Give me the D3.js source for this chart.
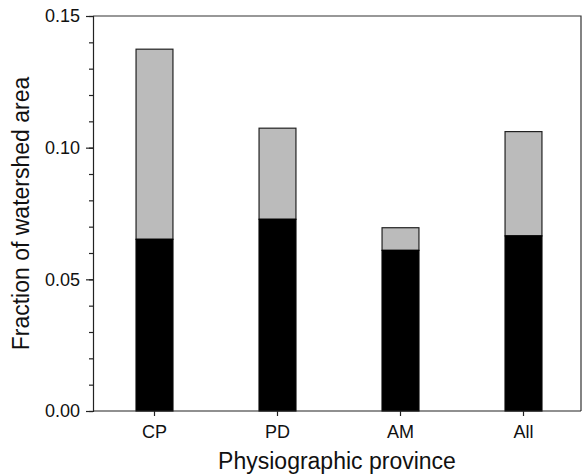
<!DOCTYPE html>
<html>
<head>
<meta charset="utf-8" />
<title></title>
<style>
html, body {
    padding: 0px;
    margin: 0px;
    background: #fff;
}
svg text {
    font-family: "Liberation Sans", Arial, Helvetica, sans-serif;
    fill: #111;
}
</style>
</head>
<body>
<svg id="chart" width="582" height="476"></svg>

<script src="https://cdnjs.cloudflare.com/ajax/libs/d3/7.8.5/d3.min.js"></script>
<script>
// values
var provinces = ["CP", "PD", "AM", "All"];
var lowerPart = [0.0652, 0.0728, 0.0610, 0.0665];   // black segment
var upperPart = [0.0722, 0.0346, 0.0086, 0.0396];   // grey segment on top
var yTicks = [0, 0.05, 0.10, 0.15];

!(function(){
    "use strict";

    var svg = d3.select("#chart");
    var left = 93, top = 16, bottom = 411, right = 581;

    var x = d3.scaleBand()
        .domain(provinces)
        .range([left, left + 4 * 123])
        .paddingInner(0.7)
        .paddingOuter(0.35);

    var y = d3.scaleLinear()
        .domain([0, 0.15])
        .range([bottom, top]);

    var rows = provinces.map(function(p, i) {
        return {name: p, low: lowerPart[i], high: upperPart[i]};
    });

    // frame (top + right)
    svg.append("path")
        .attr("d", "M" + left + "," + top + "H" + right + "V" + bottom)
        .attr("fill", "none")
        .attr("stroke", "#333")
        .attr("stroke-width", 1.2);

    // bars
    var g = svg.append("g");
    g.selectAll(".upper")
        .data(rows)
        .enter()
        .append("rect")
        .attr("class", "upper")
        .attr("x", function(d) { return x(d.name); })
        .attr("width", x.bandwidth())
        .attr("y", function(d) { return y(d.low + d.high); })
        .attr("height", function(d) { return y(d.low) - y(d.low + d.high); })
        .attr("fill", "#bbbbbb")
        .attr("stroke", "#222")
        .attr("stroke-width", 1.2);

    g.selectAll(".lower")
        .data(rows)
        .enter()
        .append("rect")
        .attr("class", "lower")
        .attr("x", function(d) { return x(d.name); })
        .attr("width", x.bandwidth())
        .attr("y", function(d) { return y(d.low); })
        .attr("height", function(d) { return y(0) - y(d.low); })
        .attr("fill", "#000")
        .attr("stroke", "#000")
        .attr("stroke-width", 1.2);

    // y axis, minor ticks every 0.01
    var yMinor = svg.append("g")
        .attr("transform", "translate(" + left + ",0)")
        .call(d3.axisLeft(y).ticks(15).tickSize(4).tickFormat(""));
    yMinor.select(".domain").remove();

    var yAxis = svg.append("g")
        .attr("transform", "translate(" + left + ",0)")
        .call(d3.axisLeft(y).tickValues(yTicks).tickSize(7).tickPadding(6)
            .tickFormat(d3.format(".2f")));
    yAxis.selectAll("text")
        .style("font-size", "18px")
        .attr("font-family", null);

    var xAxis = svg.append("g")
        .attr("transform", "translate(0," + bottom + ")")
        .call(d3.axisBottom(x).tickSize(5).tickPadding(9).tickSizeOuter(0));
    xAxis.selectAll("text")
        .style("font-size", "18px")
        .attr("font-family", null);
    xAxis.select(".domain").attr("d", "M" + left + ",0H" + right);

    svg.selectAll(".domain, .tick line")
        .attr("stroke", "#222")
        .attr("stroke-width", 1.2);

    // axis titles
    svg.append("text")
        .attr("x", (left + right) / 2)
        .attr("y", 469)
        .attr("text-anchor", "middle")
        .style("font-size", "23px")
        .text("Physiographic province");

    svg.append("text")
        .attr("transform", "translate(29," + ((top + bottom) / 2) + ") rotate(-90)")
        .attr("text-anchor", "middle")
        .style("font-size", "23px")
        .text("Fraction of watershed area");

}());
</script>
</body>
</html>
